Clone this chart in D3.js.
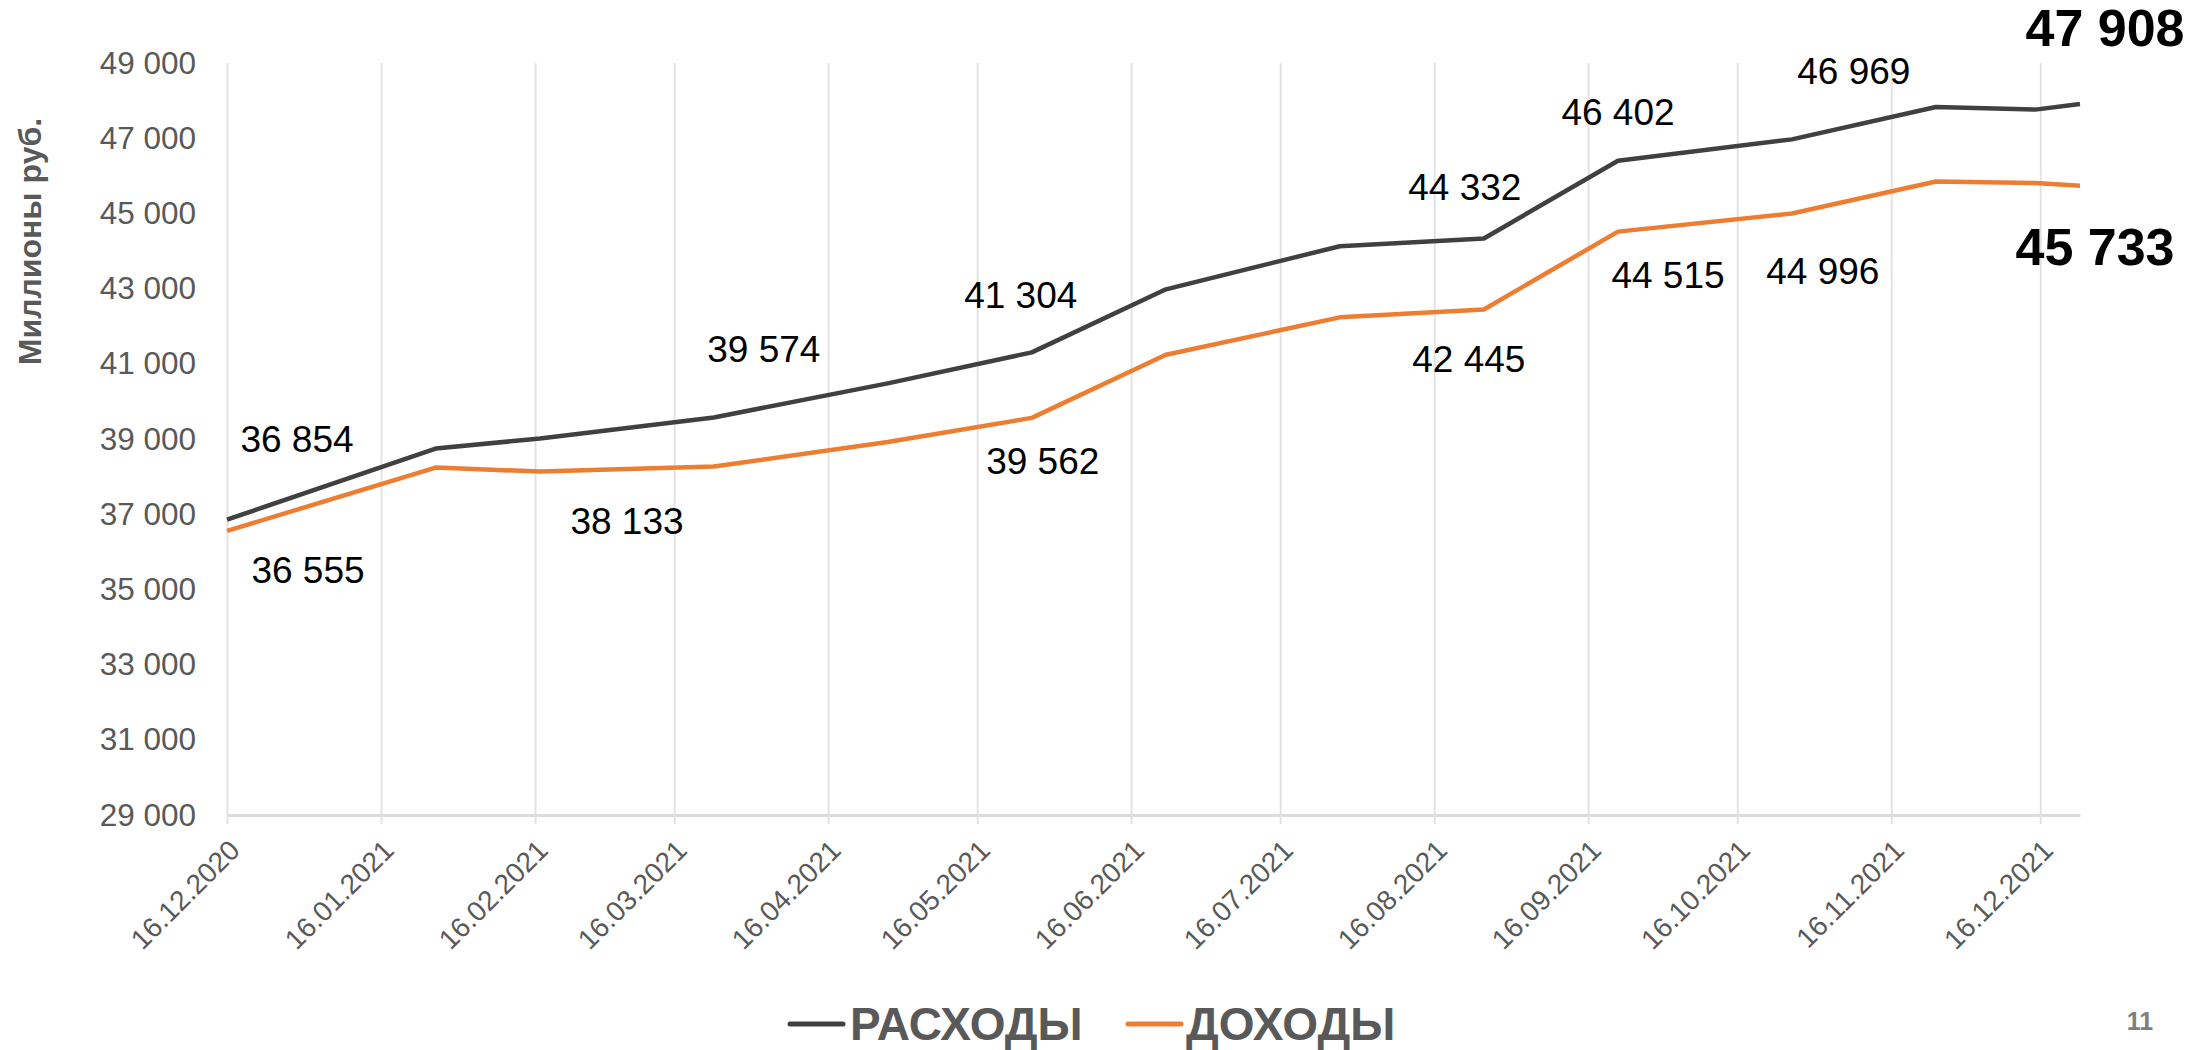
<!DOCTYPE html>
<html>
<head>
<meta charset="utf-8">
<script src="https://cdn.jsdelivr.net/npm/d3@7"></script>
<style>
  body { margin: 0; background: #fff; }
  svg { display: block; }
  text { font-family: "Liberation Sans", Arial, sans-serif; }
</style>
</head>
<body>
<div id="chart"></div>
<script>
// данные
const dates = ['2020-12-16', '2021-01-27', '2021-02-17', '2021-03-24', '2021-04-28', '2021-05-27', '2021-06-23',
    '2021-07-28', '2021-08-26', '2021-09-22', '2021-10-27', '2021-11-25', '2021-12-15', '2021-12-24']
const rashody = [36854, 38747, 39013, 39574, 40480, 41304, 42981, 44127, 44332, 46402, 46969, 47830, 47760, 47908]
const dohody = [36555, 38241, 38133, 38268, 38920, 39562, 41240, 42236, 42445, 44515, 44996, 45850, 45810, 45733]
const tickLabels = ['16.12.2020', '16.01.2021', '16.02.2021', '16.03.2021', '16.04.2021', '16.05.2021', '16.06.2021',
    '16.07.2021', '16.08.2021', '16.09.2021', '16.10.2021', '16.11.2021', '16.12.2021']
const yTicks = [29000, 31000, 33000, 35000, 37000, 39000, 41000, 43000, 45000, 47000, 49000]
const seriesNames = ['РАСХОДЫ', 'ДОХОДЫ']

// подписи: индекс точки и сдвиг от неё
const labelsRashody = [
    { i: 0, dx: 70, dy: -68 }, { i: 3, dx: 50, dy: -55 }, { i: 5, dx: -11, dy: -44 },
    { i: 8, dx: -19, dy: -39 }, { i: 9, dx: 0, dy: -36 }, { i: 10, dx: 62, dy: -55 },
    { i: 13, dx: 25, dy: -58, bold: true }
]
const labelsDohody = [
    { i: 0, dx: 81, dy: 52 }, { i: 2, dx: 87, dy: 62 }, { i: 5, dx: 11, dy: 56 },
    { i: 8, dx: -15, dy: 63 }, { i: 9, dx: 50, dy: 56 }, { i: 10, dx: 31, dy: 70 },
    { i: 13, dx: 15, dy: 79, bold: true }
]

const width = 2194
const height = 1050
const plotLeft = 227, plotRight = 2080, plotTop = 63, plotBottom = 815
const colors = ['#404040', '#ED7D31']
const grey = '#595959'

const parse = d3.utcParse('%Y-%m-%d')
const parseTick = d3.utcParse('%d.%m.%Y')
const x = d3.scaleUtc()
    .domain([parse(dates[0]), parse(dates[dates.length - 1])])
    .range([plotLeft, plotRight])
const y = d3.scaleLinear()
    .domain([29000, 49000])
    .range([plotBottom, plotTop])

const ru = d3.formatLocale({ decimal: ',', thousands: ' ', grouping: [3], currency: ['', ''] })
const fmt = ru.format(',d')

const svg = d3.select('#chart')
    .append('svg')
    .attr('width', width)
    .attr('height', height)

const tickDates = tickLabels.map(t => parseTick(t))

// вертикальная сетка
svg.append('g')
    .attr('transform', `translate(0, ${plotBottom})`)
    .call(d3.axisBottom(x).tickValues(tickDates).tickSize(-(plotBottom - plotTop)).tickFormat(''))
    .call(g => g.select('.domain').remove())
    .call(g => g.selectAll('.tick line').attr('stroke', '#E3E3E3').attr('stroke-width', 2))

// ось X
const xAxis = svg.append('g')
    .attr('transform', `translate(0, ${plotBottom})`)
    .call(d3.axisBottom(x).tickValues(tickDates).tickSize(9).tickSizeOuter(0).tickFormat((d, i) => tickLabels[i]))
xAxis.select('.domain').attr('stroke', '#DCDCDC').attr('stroke-width', 3)
xAxis.selectAll('.tick line').attr('stroke', '#E3E3E3').attr('stroke-width', 2)
xAxis.selectAll('.tick text')
    .attr('fill', grey)
    .attr('font-size', 28)
    .attr('text-anchor', 'end')
    .attr('x', 0).attr('y', 0).attr('dy', 0)
    .attr('transform', 'translate(14, 37) rotate(-45)')

// ось Y
const yAxis = svg.append('g')
    .attr('transform', `translate(${plotLeft - 31}, 0)`)
    .call(d3.axisLeft(y).tickValues(yTicks).tickSize(0).tickFormat(fmt))
yAxis.select('.domain').remove()
yAxis.selectAll('.tick text')
    .attr('fill', grey)
    .attr('font-size', 31.5)
    .attr('x', 0)

svg.append('text')
    .attr('transform', `translate(30, ${(119 + 364) / 2}) rotate(-90)`)
    .attr('text-anchor', 'middle')
    .attr('dy', '0.35em')
    .attr('font-size', 32)
    .attr('font-weight', 'bold')
    .attr('fill', grey)
    .text('Миллионы руб.')

// линии
const line = d3.line()
    .x((d, i) => x(parse(dates[i])))
    .y(d => y(d))

;[rashody, dohody].forEach((s, k) => {
    svg.append('path')
        .datum(s)
        .attr('fill', 'none')
        .attr('stroke', colors[k])
        .attr('stroke-width', 4.5)
        .attr('stroke-linejoin', 'round')
        .attr('d', line)
})

// подписи значений
function addLabels(series, labels) {
    svg.append('g')
        .selectAll('text')
        .data(labels)
        .enter()
        .append('text')
        .attr('x', d => x(parse(dates[d.i])) + d.dx)
        .attr('y', d => y(series[d.i]) + d.dy)
        .attr('text-anchor', 'middle')
        .attr('font-size', d => d.bold ? 52 : 37)
        .attr('font-weight', d => d.bold ? 'bold' : 'normal')
        .attr('fill', '#000')
        .text(d => fmt(series[d.i]))
}
addLabels(rashody, labelsRashody)
addLabels(dohody, labelsDohody)

// легенда
const legendItems = [{ x: 790 }, { x: 1128 }]
const legend = svg.append('g')
    .selectAll('g')
    .data(seriesNames)
    .enter()
    .append('g')
    .attr('transform', (d, i) => `translate(${legendItems[i].x}, 1024)`)
legend.append('line')
    .attr('x1', 0).attr('x2', 53)
    .attr('stroke', (d, i) => colors[i])
    .attr('stroke-width', 5)
    .attr('stroke-linecap', 'round')
legend.append('text')
    .attr('x', (d, i) => i === 0 ? 60 : 58)
    .attr('y', 16)
    .attr('font-size', 46)
    .attr('font-weight', 'bold')
    .attr('fill', grey)
    .text(d => d)

// номер слайда
svg.append('text')
    .attr('x', 2140)
    .attr('y', 1030)
    .attr('text-anchor', 'middle')
    .attr('font-size', 25)
    .attr('font-weight', 'bold')
    .attr('fill', '#7F7F7F')
    .text('11')
</script>
</body>
</html>
